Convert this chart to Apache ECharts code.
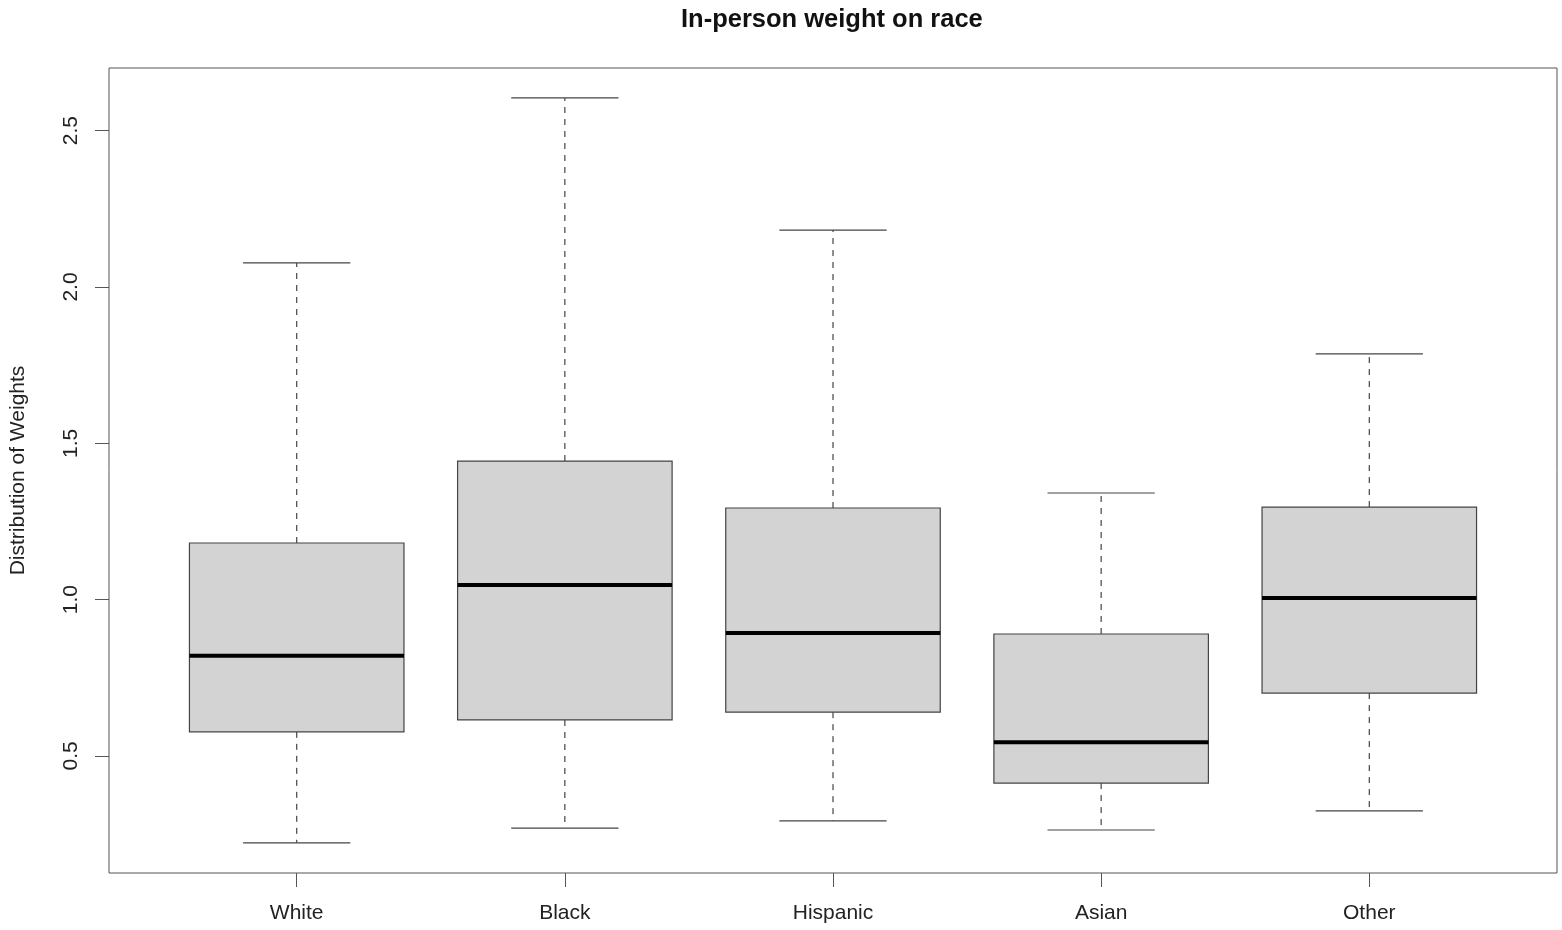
<!DOCTYPE html>
<html>
<head>
<meta charset="utf-8">
<script src="https://cdn.jsdelivr.net/npm/echarts@6/dist/echarts.min.js"></script>
<style>html,body{margin:0;padding:0;background:#fff}#c{width:1562px;height:930px}</style>
</head>
<body>
<div id="c"></div>
<script>
const categories = ['White', 'Black', 'Hispanic', 'Asian', 'Other'];
const lowerWhisker = [0.222, 0.269, 0.292, 0.263, 0.324];
const q1Values     = [0.577, 0.615, 0.640, 0.413, 0.701];
const medianValues = [0.820, 1.047, 0.893, 0.544, 1.005];
const q3Values     = [1.181, 1.443, 1.293, 0.890, 1.296];
const upperWhisker = [2.077, 2.605, 2.182, 1.341, 1.786];
const yTicks = [0.5, 1.0, 1.5, 2.0, 2.5];
const xTicks = [1, 2, 3, 4, 5];

const data = categories.map((c, i) => [i + 1, lowerWhisker[i], q1Values[i], medianValues[i], q3Values[i], upperWhisker[i]]);

const chart = echarts.init(document.getElementById('c'), null, {renderer: 'canvas'});
const FONT = 'Liberation Sans, Arial, sans-serif';

function renderItem(params, api) {
  const x = api.value(0);
  const pLo = api.coord([x, api.value(1)]);
  const pQ1 = api.coord([x, api.value(2)]);
  const pMed = api.coord([x, api.value(3)]);
  const pQ3 = api.coord([x, api.value(4)]);
  const pHi = api.coord([x, api.value(5)]);
  const halfBox = api.size([0.8, 0])[0] / 2;
  const halfCap = api.size([0.4, 0])[0] / 2;
  const cx = pMed[0];
  const lineCol = '#444';
  return {
    type: 'group',
    children: [
      {type: 'line', shape: {x1: cx, y1: pQ3[1], x2: cx, y2: pHi[1]},
       style: {stroke: lineCol, lineWidth: 1.2, lineDash: [6, 6]}},
      {type: 'line', shape: {x1: cx, y1: pQ1[1], x2: cx, y2: pLo[1]},
       style: {stroke: lineCol, lineWidth: 1.2, lineDash: [6, 6]}},
      {type: 'line', shape: {x1: cx - halfCap, y1: pHi[1], x2: cx + halfCap, y2: pHi[1]},
       style: {stroke: lineCol, lineWidth: 1.2}},
      {type: 'line', shape: {x1: cx - halfCap, y1: pLo[1], x2: cx + halfCap, y2: pLo[1]},
       style: {stroke: lineCol, lineWidth: 1.2}},
      {type: 'rect', shape: {x: cx - halfBox, y: pQ3[1], width: 2 * halfBox, height: pQ1[1] - pQ3[1]},
       style: {fill: '#d3d3d3', stroke: lineCol, lineWidth: 1.2}},
      {type: 'line', shape: {x1: cx - halfBox, y1: pMed[1], x2: cx + halfBox, y2: pMed[1]},
       style: {stroke: '#000', lineWidth: 4}}
    ]
  };
}

const option = {
  animation: false,
  backgroundColor: '#fff',
  title: {
    text: 'In-person weight on race',
    left: 681, top: 7, padding: 0,
    textStyle: {fontFamily: FONT, fontSize: 25.5, fontWeight: 'bold', color: '#111'}
  },
  grid: {
    left: 107, right: 5, top: 68, bottom: 57,
    show: true, borderColor: '#555', borderWidth: 1, backgroundColor: 'transparent'
  },
  xAxis: {
    type: 'value', min: 0.3, max: 5.7,
    splitLine: {show: false},
    axisLine: {show: false},
    axisTick: {show: true, length: 14, customValues: xTicks, lineStyle: {color: '#555', width: 1}},
    axisLabel: {
      customValues: xTicks, margin: 30,
      formatter: v => categories[Math.round(v) - 1] || '',
      fontFamily: FONT, fontSize: 21, color: '#222'
    }
  },
  yAxis: {
    type: 'value', min: 0.1254, max: 2.7006,
    name: 'Distribution of Weights', nameLocation: 'middle', nameGap: 80, nameRotate: 90,
    nameTextStyle: {fontFamily: FONT, fontSize: 21, color: '#222'},
    splitLine: {show: false},
    axisLine: {show: false},
    axisTick: {show: true, length: 14, customValues: yTicks, lineStyle: {color: '#555', width: 1}},
    axisLabel: {
      customValues: yTicks, rotate: 90, margin: 27,
      formatter: v => v.toFixed(1),
      fontFamily: FONT, fontSize: 21, color: '#222'
    }
  },
  series: [{
    type: 'custom',
    renderItem: renderItem,
    encode: {x: 0, y: [1, 2, 3, 4, 5]},
    data: data,
    clip: false
  }]
};
chart.setOption(option);
</script>
</body>
</html>
